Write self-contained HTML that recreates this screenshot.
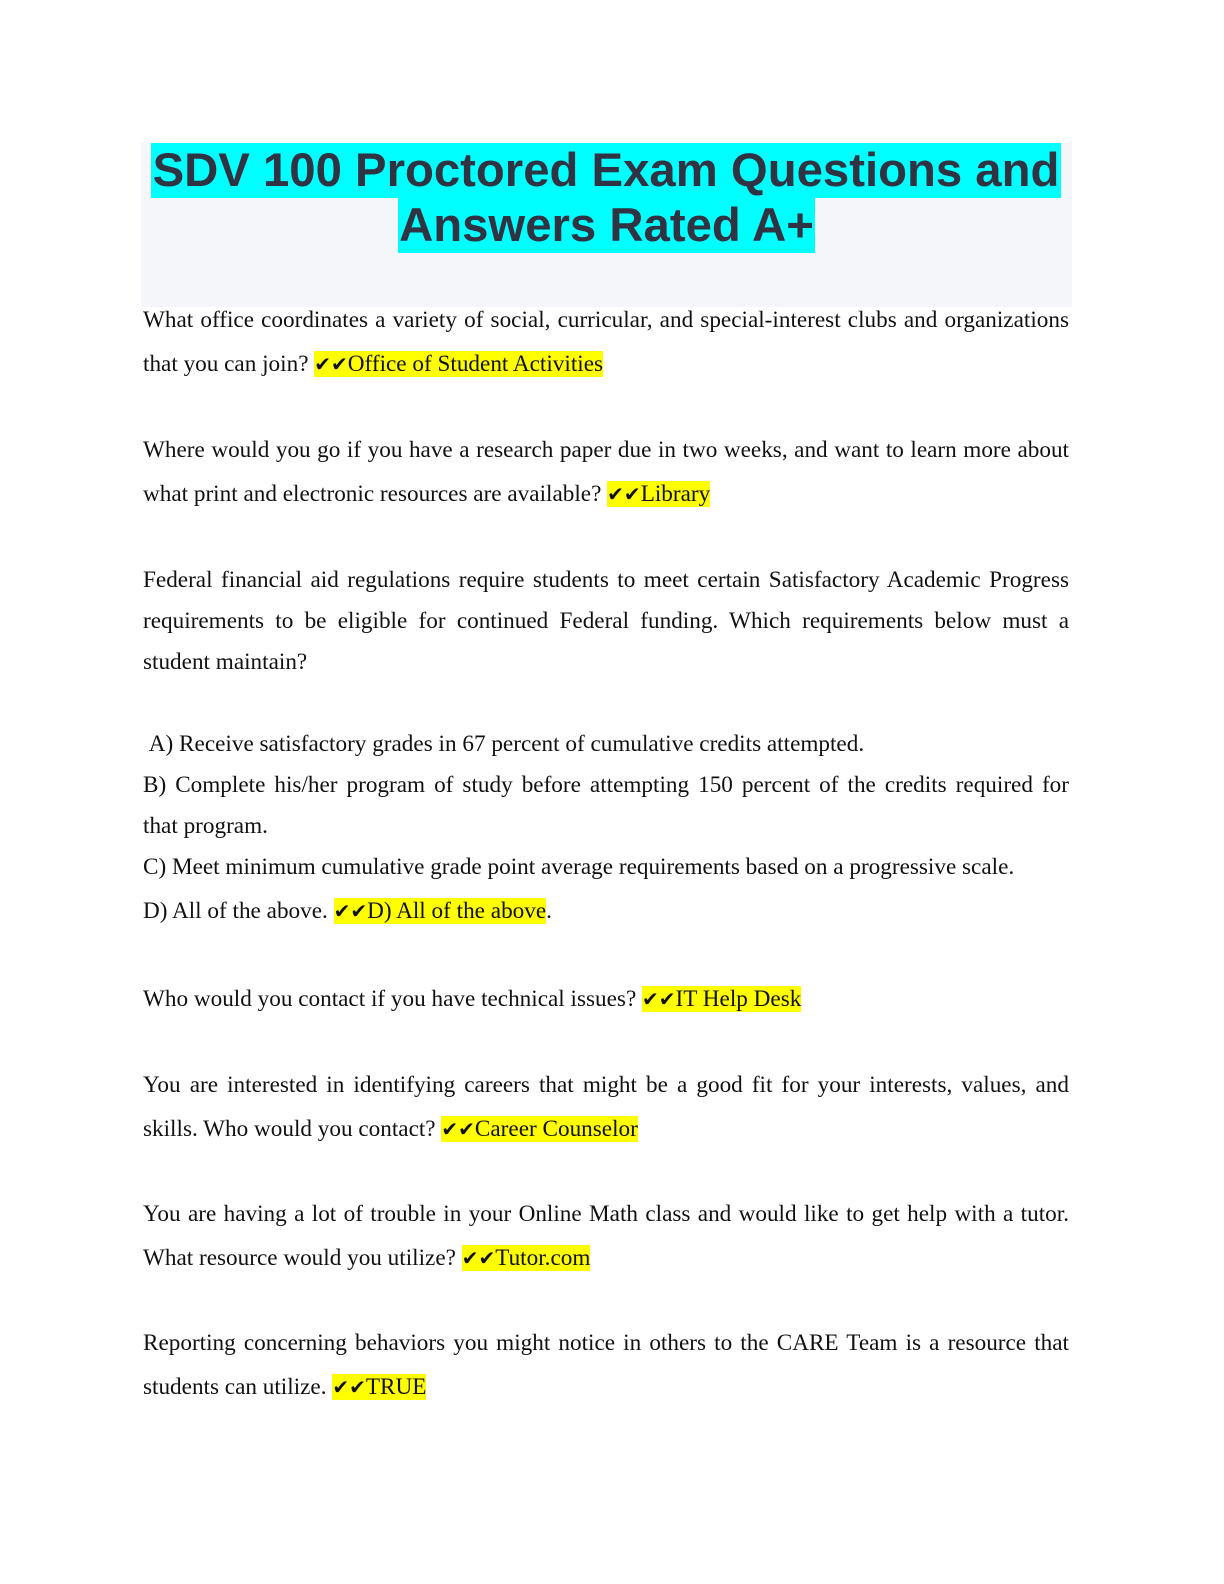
<!DOCTYPE html>
<html><head><meta charset="utf-8"><style>
html,body{margin:0;padding:0;background:#fff;}
body{width:1224px;height:1584px;position:relative;overflow:hidden;}
.tbox{position:absolute;left:141px;top:143px;width:931px;height:164px;background:#f5f6fa;}
.t{position:absolute;font-family:"Liberation Sans",sans-serif;font-weight:bold;font-size:47.3px;line-height:55px;height:55px;color:#2f3342;background:#00ffff;white-space:nowrap;text-align:center;}
.l{position:absolute;left:143px;font-family:"Liberation Serif",serif;font-size:23.2px;line-height:26px;height:26px;color:#111;white-space:nowrap;}
.j{width:926px;text-align:justify;text-align-last:justify;}
.h{background:#ffff00;}
.c{font-family:"DejaVu Sans",sans-serif;font-size:20px;}
</style></head><body>
<div class="tbox"></div>
<div class="t" style="left:151px;top:143px;width:910px;">SDV 100 Proctored Exam Questions and</div>
<div class="t" style="left:398px;top:198px;width:417px;">Answers Rated A+</div>

<div class="l j" style="top:307px">What office coordinates a variety of social, curricular, and special-interest clubs and organizations</div>
<div class="l" style="top:351px">that you can join? <span class="h"><span class="c">✔✔</span>Office of Student Activities</span></div>

<div class="l j" style="top:437px">Where would you go if you have a research paper due in two weeks, and want to learn more about</div>
<div class="l" style="top:481px">what print and electronic resources are available? <span class="h"><span class="c">✔✔</span>Library</span></div>

<div class="l j" style="top:567px">Federal financial aid regulations require students to meet certain Satisfactory Academic Progress</div>
<div class="l j" style="top:608px">requirements to be eligible for continued Federal funding. Which requirements below must a</div>
<div class="l" style="top:649px">student maintain?</div>

<div class="l" style="top:731px">&nbsp;A) Receive satisfactory grades in 67 percent of cumulative credits attempted.</div>
<div class="l j" style="top:772px">B) Complete his/her program of study before attempting 150 percent of the credits required for</div>
<div class="l" style="top:813px">that program.</div>
<div class="l" style="top:854px">C) Meet minimum cumulative grade point average requirements based on a progressive scale.</div>
<div class="l" style="top:898px">D) All of the above. <span class="h"><span class="c">✔✔</span>D) All of the above</span>.</div>

<div class="l" style="top:986px">Who would you contact if you have technical issues? <span class="h"><span class="c">✔✔</span>IT Help Desk</span></div>

<div class="l j" style="top:1072px">You are interested in identifying careers that might be a good fit for your interests, values, and</div>
<div class="l" style="top:1116px">skills. Who would you contact? <span class="h"><span class="c">✔✔</span>Career Counselor</span></div>

<div class="l j" style="top:1201px">You are having a lot of trouble in your Online Math class and would like to get help with a tutor.</div>
<div class="l" style="top:1245px">What resource would you utilize? <span class="h"><span class="c">✔✔</span>Tutor.com</span></div>

<div class="l j" style="top:1330px">Reporting concerning behaviors you might notice in others to the CARE Team is a resource that</div>
<div class="l" style="top:1374px">students can utilize. <span class="h"><span class="c">✔✔</span>TRUE</span></div>
</body></html>
